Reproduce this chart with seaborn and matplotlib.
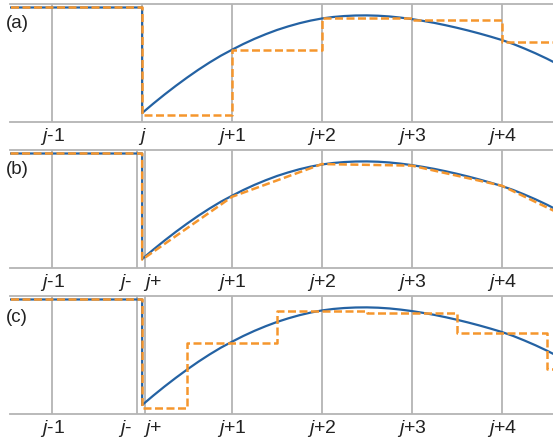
import numpy as np
import matplotlib
matplotlib.use("Agg")
import matplotlib.pyplot as plt
import seaborn as sns

sns.set_theme(style="white")
plt.rcParams['font.family'] = ['Liberation Sans', 'DejaVu Sans']
plt.rcParams['mathtext.fontset'] = 'custom'
plt.rcParams['mathtext.it'] = 'Liberation Sans:italic'
plt.rcParams['mathtext.rm'] = 'Liberation Sans'

# exact solution: constant state left of j, smooth profile right of j
left_x = [-2.0, 0.0, 0.0]
left_u = [1.0, 1.0, 0.0]
curve_x = [0, 0.125, 0.25, 0.375, 0.5, 0.625, 0.75, 0.875, 1.0, 1.125,
           1.25, 1.375, 1.5, 1.625, 1.75, 1.875, 2.0, 2.125, 2.25, 2.375,
           2.5, 2.625, 2.75, 2.875, 3.0, 3.125, 3.25, 3.375, 3.5, 3.625,
           3.75, 3.875, 4.0, 4.125, 4.25, 4.375, 4.5, 4.625]
curve_u = [0.0, 0.09, 0.176, 0.258, 0.336, 0.41, 0.479, 0.543, 0.600, 0.654,
           0.703, 0.747, 0.787, 0.821, 0.851, 0.876, 0.896, 0.910, 0.919,
           0.924, 0.925, 0.922, 0.915, 0.904, 0.890, 0.873, 0.854, 0.832,
           0.808, 0.782, 0.754, 0.724, 0.692, 0.655, 0.612, 0.566, 0.516,
           0.462]

# (a) piecewise constant cells
a_x = [-2.0, 0.0, 1.0, 2.0, 3.0, 4.0, 5.0]
a_u = [1.0, -0.02, 0.597, 0.90, 0.88, 0.673, 0.673]
# (b) piecewise linear
b_x = [-2.0, 0.0, 0.0, 1.0, 2.0, 3.0, 4.0, 5.0]
b_u = [1.0, 1.0, -0.005, 0.59, 0.90, 0.885, 0.695, 0.285]
# (c) staggered constants
c_x = [-2.0, 0.0, 0.5, 1.5, 2.5, 3.5, 4.5, 5.0]
c_u = [1.0, -0.028, 0.59, 0.89, 0.875, 0.68, 0.34, 0.34]

grid_a = [-1, 0, 1, 2, 3, 4]
grid_bc = [-1, -0.06, 0.03, 1, 2, 3, 4]
ticks_a = [-1, 0, 1, 2, 3, 4]
labels_a = ['$j$-1', '$j$', '$j$+1', '$j$+2', '$j$+3', '$j$+4']
ticks_bc = [-1, -0.19, 0.12, 1, 2, 3, 4]
labels_bc = ['$j$-1', '$j$-', '$j$+', '$j$+1', '$j$+2', '$j$+3', '$j$+4']

blue = '#2462a3'
orange = '#f5962d'
gray = '#b4b4b4'

fig = plt.figure(figsize=(5.53, 4.43), dpi=100)
panels = [
    ('(a)', 0.7246, grid_a, ticks_a, labels_a, a_x, a_u, 'steps-post'),
    ('(b)', 0.395, grid_bc, ticks_bc, labels_bc, b_x, b_u, 'default'),
    ('(c)', 0.0655, grid_bc, ticks_bc, labels_bc, c_x, c_u, 'steps-post'),
]
tag_y = [1 - 24 / 443, 1 - 170 / 443, 1 - 318 / 443]

for i, (tag, bottom, grid, ticks, labels, ox, ou, ds) in enumerate(panels):
    ax = fig.add_axes([10 / 553, bottom, 1 - 10 / 553, 118 / 443])
    for g in grid:
        ax.axvline(g, color=gray, lw=1.3, zorder=1)
    sns.lineplot(x=left_x + curve_x, y=left_u + curve_u, estimator=None,
                 sort=False, color=blue, linewidth=1.6, ax=ax, zorder=3)
    sns.lineplot(x=ox, y=ou, estimator=None, sort=False, color=orange,
                 linewidth=1.8, linestyle=(0, (3.2, 1.4)), drawstyle=ds,
                 ax=ax, zorder=4)
    ax.set_xlim(-1.47, 4.57)
    ax.set_ylim(-0.085, 1.033)
    ax.set_yticks([])
    ax.set_xticks(ticks)
    ax.set_xticklabels(labels, fontsize=14)
    ax.tick_params(axis='x', length=0, pad=3, colors='#222222')
    for s in ['left', 'right']:
        ax.spines[s].set_visible(False)
    for s in ['top', 'bottom']:
        ax.spines[s].set_color(gray)
        ax.spines[s].set_linewidth(1.3)
    ax.set_xlabel('')
    ax.set_ylabel('')
    fig.text(6 / 553, tag_y[i], tag, fontsize=13.5, va='center', ha='left',
             color='#222222')

fig.savefig('out.png', dpi=100)
